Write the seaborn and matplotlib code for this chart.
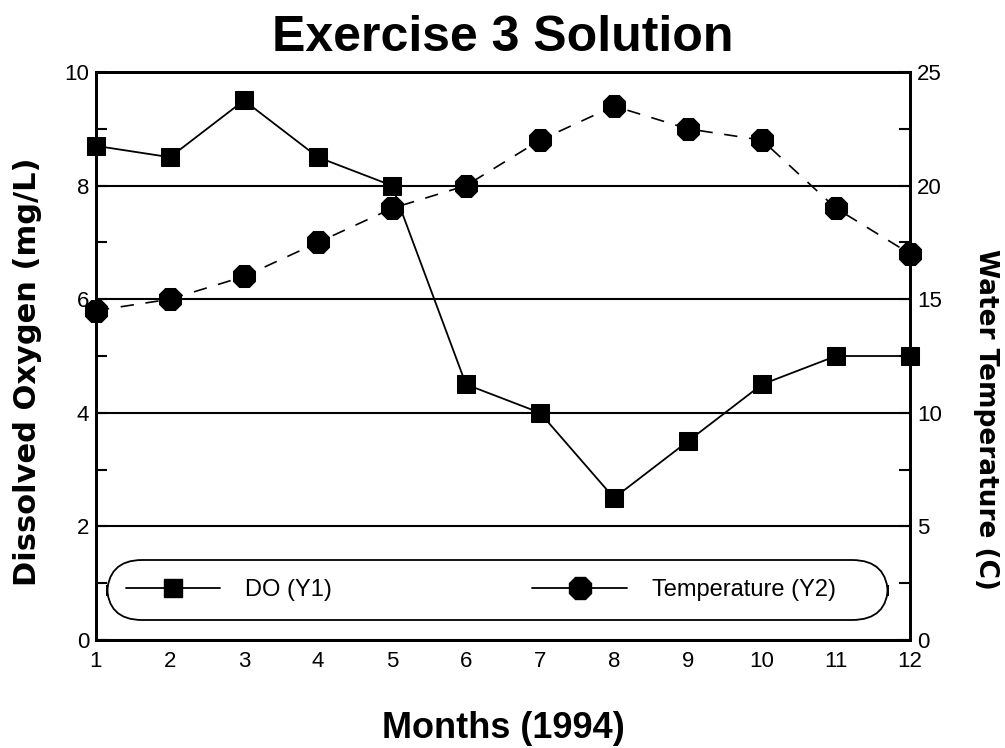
import numpy as np
import pandas as pd
import seaborn as sns
import matplotlib.pyplot as plt
from matplotlib.lines import Line2D

months = list(range(1, 13))
dissolved_oxygen = [8.7, 8.5, 9.5, 8.5, 8.0, 4.5, 4.0, 2.5, 3.5, 4.5, 5.0, 5.0]
water_temp = [14.5, 15.0, 16.0, 17.5, 19.0, 20.0, 22.0, 23.5, 22.5, 22.0, 19.0, 17.0]

df = pd.DataFrame({"month": months, "do": dissolved_oxygen, "temp": water_temp})

sns.set_style("white")
plt.rcParams["font.family"] = ["Liberation Sans", "DejaVu Sans"]
plt.rcParams["text.color"] = "black"
plt.rcParams["axes.labelcolor"] = "black"
plt.rcParams["xtick.color"] = "black"
plt.rcParams["ytick.color"] = "black"

fig = plt.figure(figsize=(10.05, 7.48), dpi=100)
ax = fig.add_axes([0.0955, 0.1444, 0.81, 0.7593])
ax2 = ax.twinx()

sns.lineplot(data=df, x="month", y="do", ax=ax, color="black", lw=1.3,
             marker="s", markersize=13, markeredgecolor="black", zorder=5,
             clip_on=False)
sns.lineplot(data=df, x="month", y="temp", ax=ax2, color="black", lw=1.2,
             marker="8", markersize=17, markeredgecolor="black", zorder=5,
             dashes=False, linestyle=(0, (8, 7)), clip_on=False)

ax.set_xlim(1, 12)
ax.set_ylim(0, 10)
ax2.set_ylim(0, 25)

ax.set_xticks(months)
ax.set_yticks(np.arange(0, 11, 2))
ax.set_yticks(np.arange(1, 10, 2), minor=True)
ax2.set_yticks(np.arange(0, 26, 5))
ax2.set_yticks(np.arange(2.5, 25, 5), minor=True)

for a in (ax, ax2):
    for s in a.spines.values():
        s.set_color("black")
        s.set_linewidth(2)
ax.tick_params(axis="x", direction="in", length=14, width=1.5, labelsize=16, pad=8)
ax.tick_params(axis="y", which="both", direction="in", length=8, width=1.5,
               labelsize=16, left=True, pad=5)
ax2.tick_params(axis="y", which="both", direction="in", length=8, width=1.5,
                labelsize=16, right=True, pad=5)

ax.yaxis.grid(True, color="black", lw=1.5)
ax.set_axisbelow(True)

ax.set_xlabel("Months (1994)", fontsize=26, fontweight="bold", labelpad=28)
ax.set_ylabel("Dissolved Oxygen (mg/L)", fontsize=22, fontweight="bold",
              family="DejaVu Sans")
ax2.set_ylabel("Water Temperature (C)", fontsize=19, fontweight="bold",
               family="DejaVu Sans", rotation=270)
ax.yaxis.set_label_coords(-0.084, 0.472)
ax2.yaxis.set_label_coords(1.093, 0.389)
ax.yaxis.label.set_va("center")
ax2.yaxis.label.set_va("center")
ax.set_title("Exercise 3 Solution", fontsize=36, fontweight="bold", pad=15)

handles = [
    Line2D([], [], color="black", lw=1.3, marker="s", markersize=13),
    Line2D([], [], color="black", lw=1.3, marker="8", markersize=17),
]
leg = ax.legend(handles, ["DO (Y1)", "Temperature (Y2)     "], ncol=2,
                loc="lower left", bbox_to_anchor=(0.0135, 0.035, 0.959, 0.11),
                mode="expand", handlelength=4.0, handletextpad=1.05,
                frameon=True, fancybox=True, framealpha=1, borderpad=0.8,
                borderaxespad=0, fontsize=17)
leg.get_frame().set_edgecolor("black")
leg.get_frame().set_linewidth(1.3)
leg.get_frame().set_boxstyle("round", pad=0.0, rounding_size=1.5)
leg.set_zorder(10)

fig.savefig("out.png", dpi=100)
